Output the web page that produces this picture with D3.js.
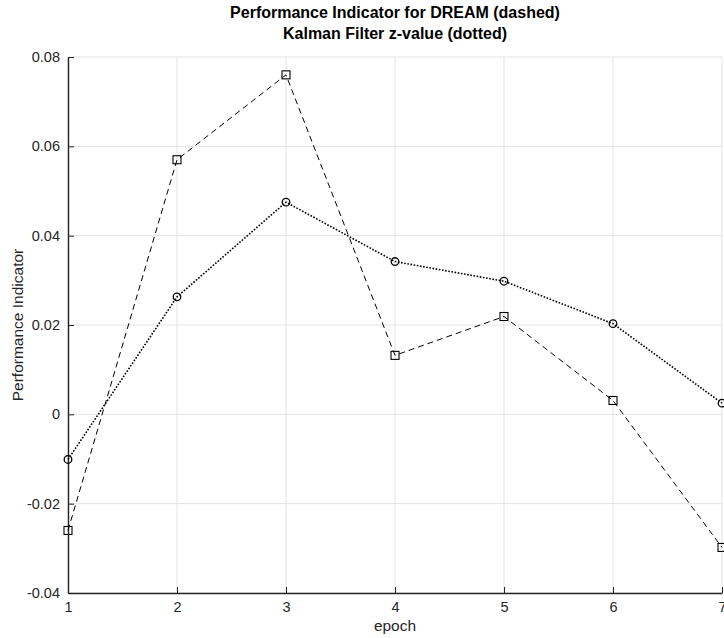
<!DOCTYPE html>
<html>
<head>
<meta charset="utf-8">
<script src="https://cdn.jsdelivr.net/npm/d3@7"></script>
<style>
  body { margin: 0; background: #fff; }
  svg { display: block; font-family: "Liberation Sans", Arial, sans-serif; }
</style>
</head>
<body>
<svg class="viz"></svg>
<script>
var width = 724,
  height = 638;

var margin = { top: 57, left: 68, right: 2, bottom: 45 };

// data
var epochs = [1, 2, 3, 4, 5, 6, 7];
var dream_values = [-0.026, 0.057, 0.076, 0.0132, 0.0219, 0.0031, -0.0298];
var kalman_values = [-0.0101, 0.0263, 0.0475, 0.0342, 0.0298, 0.0203, 0.0025];
var y_ticks = [-0.04, -0.02, 0, 0.02, 0.04, 0.06, 0.08];
var y_tick_labels = ["-0.04", "-0.02", "0", "0.02", "0.04", "0.06", "0.08"];

var viz = d3.select(".viz")
  .attr("width", width)
  .attr("height", height);

var x = d3.scaleLinear().domain([1, 7]).range([margin.left, width - margin.right]);
var y = d3.scaleLinear().domain([-0.04, 0.08]).range([height - margin.bottom, margin.top]);

var axis_color = "#262626";

// grid
viz.append("g")
  .selectAll("line.vgrid")
  .data(epochs)
  .enter().append("line")
  .attr("x1", d => x(d)).attr("x2", d => x(d))
  .attr("y1", y(-0.04)).attr("y2", y(0.08))
  .attr("stroke", "#e3e3e3").attr("stroke-width", 1);

viz.append("g")
  .selectAll("line.hgrid")
  .data(y_ticks)
  .enter().append("line")
  .attr("x1", x(1)).attr("x2", x(7))
  .attr("y1", d => y(d)).attr("y2", d => y(d))
  .attr("stroke", "#e3e3e3").attr("stroke-width", 1);

// axes (MATLAB style: ticks pointing inward)
var x_axis = d3.axisBottom(x)
  .tickValues(epochs)
  .tickFormat(d3.format("d"))
  .tickSizeInner(-6)
  .tickSizeOuter(0)
  .tickPadding(9);

var y_axis = d3.axisLeft(y)
  .tickValues(y_ticks)
  .tickFormat((d, i) => y_tick_labels[i])
  .tickSizeInner(-6)
  .tickSizeOuter(0)
  .tickPadding(8);

var gx = viz.append("g")
  .attr("transform", "translate(0," + y(-0.04) + ")")
  .call(x_axis);
var gy = viz.append("g")
  .attr("transform", "translate(" + x(1) + ",0)")
  .call(y_axis);

[gx, gy].forEach(function(g) {
  g.selectAll("path, line").attr("stroke", axis_color);
  g.select("path").attr("stroke-width", 1.4);
  g.selectAll("text")
    .attr("fill", axis_color)
    .style("font-size", "14.5px")
    .style("font-family", "'Liberation Sans', Arial, sans-serif");
});

// lines
var line_gen = d3.line()
  .x((d, i) => x(epochs[i]))
  .y(d => y(d));

viz.append("path")
  .datum(dream_values)
  .attr("d", line_gen)
  .attr("fill", "none")
  .attr("stroke", "#000")
  .attr("stroke-width", 1)
  .attr("stroke-dasharray", "6,4");

viz.append("path")
  .datum(kalman_values)
  .attr("d", line_gen)
  .attr("fill", "none")
  .attr("stroke", "#000")
  .attr("stroke-width", 1.6)
  .attr("stroke-dasharray", "1.6,1.6");

// markers
viz.append("g")
  .selectAll("rect")
  .data(dream_values)
  .enter().append("rect")
  .attr("x", (d, i) => x(epochs[i]) - 4)
  .attr("y", d => y(d) - 4)
  .attr("width", 8)
  .attr("height", 8)
  .attr("fill", "none")
  .attr("stroke", "#000")
  .attr("stroke-width", 1.1);

viz.append("g")
  .selectAll("circle")
  .data(kalman_values)
  .enter().append("circle")
  .attr("cx", (d, i) => x(epochs[i]))
  .attr("cy", d => y(d))
  .attr("r", 3.8)
  .attr("fill", "none")
  .attr("stroke", "#000")
  .attr("stroke-width", 1.3);

// titles
var cx = (x(1) + x(7)) / 2;
viz.append("text")
  .attr("x", cx).attr("y", 18)
  .attr("text-anchor", "middle")
  .style("font-size", "16px").style("font-weight", "bold")
  .attr("fill", "#000")
  .text("Performance Indicator for DREAM (dashed)");
viz.append("text")
  .attr("x", cx).attr("y", 39)
  .attr("text-anchor", "middle")
  .style("font-size", "16px").style("font-weight", "bold")
  .attr("fill", "#000")
  .text("Kalman Filter z-value (dotted)");

viz.append("text")
  .attr("x", cx).attr("y", 631)
  .attr("text-anchor", "middle")
  .style("font-size", "15.5px")
  .attr("fill", axis_color)
  .text("epoch");

viz.append("text")
  .attr("transform", "translate(23," + y(0.02) + ") rotate(-90)")
  .attr("text-anchor", "middle")
  .style("font-size", "15.5px")
  .attr("fill", axis_color)
  .text("Performance Indicator");
</script>
</body>
</html>
